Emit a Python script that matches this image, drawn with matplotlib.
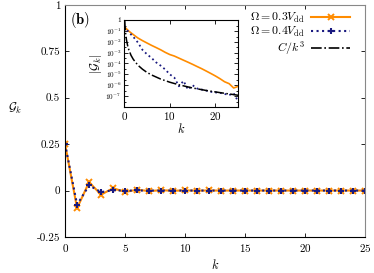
import numpy as np
import matplotlib
matplotlib.use("Agg")
import matplotlib.pyplot as plt
from matplotlib.ticker import FixedLocator, NullFormatter

plt.rcParams['font.family'] = 'serif'
plt.rcParams['font.serif'] = ['cmr10', 'DejaVu Serif']
plt.rcParams['mathtext.fontset'] = 'cm'
plt.rcParams['axes.unicode_minus'] = False
plt.rcParams['axes.formatter.use_mathtext'] = True

# data
k = list(range(26))
g_03 = [0.25, -0.095, 0.045, -0.022, 0.0126, -7.6e-3, 4.6e-3, -2.9e-3, 1.8e-3,
        -1.05e-3, 6.6e-4, -4.8e-4, 3.1e-4, -2.0e-4, 1.3e-4, -8.3e-5, 5.2e-5,
        -3.3e-5, 2.0e-5, -1.2e-5, 7.1e-6, -4.0e-6, 2.1e-6, -1.4e-6, 5.6e-7, -7.9e-7]
g_04 = [0.25, -0.076, 0.028, -0.0085, 1.8e-3, -7.0e-4, 3.2e-4, -1.26e-4, 6.3e-5,
        -2.8e-5, 1.0e-5, -5.0e-6, 8.0e-7, -2.5e-6, 4.0e-7, -1.0e-6, 5.0e-7,
        -4.0e-7, 3.2e-7, -2.5e-7, 2.2e-7, -2.0e-7, 1.6e-7, -1.26e-7, 1.8e-7, -3.2e-8]
# C/k^3 reference curve
k_ref = [0.13, 0.2, 0.3, 0.5, 0.75, 1, 1.5, 2, 3, 4, 5, 6, 8, 10, 12, 15, 18, 21, 25]
g_ref = [0.86, 0.24, 0.07, 0.015, 4.5e-3, 1.9e-3, 5.6e-4, 2.4e-4, 7.0e-5, 3.0e-5,
         1.5e-5, 8.8e-6, 3.7e-6, 1.9e-6, 1.1e-6, 5.6e-7, 3.3e-7, 2.1e-7, 1.2e-7]

orange = '#ff8c00'
navy = '#1a1a80'

fig = plt.figure(figsize=(3.74, 2.73), dpi=100)
ax = fig.add_axes([0.174, 0.132, 0.802, 0.85])

ax.plot(k, g_03, '-', color=orange, lw=1.5, marker='x', ms=5, mew=1.4,
        label=r'$\Omega = 0.3V_{\rm dd}$')
ax.plot(k, g_04, ':', color=navy, lw=1.5, marker='+', ms=4.5, mew=1.5,
        label=r'$\Omega = 0.4V_{\rm dd}$')
ax.plot([], [], '-.', color='black', lw=1.2, label=r'$C/k^3$')

ax.set_xlim(0, 25)
ax.set_ylim(-0.25, 1)
ax.set_xticks([0, 5, 10, 15, 20, 25])
ax.set_yticks([-0.25, 0, 0.25, 0.5, 0.75, 1])
ax.set_yticklabels(['-0.25', '0', '0.25', '0.5', '0.75', '1'])
ax.tick_params(direction='in', top=True, right=True, labelsize=8, length=3, width=0.6)
for s in ['top', 'right']:
    ax.spines[s].set_color('#888888')
ax.set_xlabel('$k$', fontsize=9, labelpad=3)
ax.set_ylabel(r'$\mathcal{G}_k$', fontsize=9, rotation=0)
ax.yaxis.set_label_coords(-0.165, 0.52)

ax.text(0.017, 0.98, r'$\mathbf{(b)}$', transform=ax.transAxes, fontsize=10.5,
        va='top', ha='left')

ax.legend(loc='upper right', bbox_to_anchor=(0.973, 1.0), frameon=False,
          markerfirst=False, alignment='right', fontsize=8.5, handlelength=3.3,
          borderaxespad=0.15, labelspacing=0.0, handletextpad=0.6)

# inset
ins = fig.add_axes([0.332, 0.608, 0.305, 0.319])
ins.plot(k, np.abs(g_03), '-', color=orange, lw=1.2)
ins.plot(k, np.abs(g_04), ':', color=navy, lw=1.3)
ins.plot(k_ref, g_ref, '-.', color='black', lw=1.1)
ins.set_yscale('log')
ins.set_xlim(0, 25)
ins.set_ylim(1e-8, 1.0)
ins.set_xticks([0, 10, 20])
ins.yaxis.set_major_locator(FixedLocator([1e-7, 1e-6, 1e-5, 1e-4, 1e-3, 1e-2, 1e-1, 1]))
ins.set_yticklabels([r'$10^{-7}$', r'$10^{-6}$', r'$10^{-5}$', r'$10^{-4}$',
                     r'$10^{-3}$', r'$10^{-2}$', r'$10^{-1}$', '1'])
ins.yaxis.set_minor_locator(FixedLocator([3e-8, 3e-7, 3e-6, 3e-5, 3e-4, 3e-3, 3e-2, 3e-1]))
ins.yaxis.set_minor_formatter(NullFormatter())
ins.tick_params(which='both', direction='in', top=True, right=True, labelsize=8,
                width=0.6, pad=2)
ins.tick_params(axis='y', which='major', labelsize=5.2)
ins.tick_params(which='major', length=3)
ins.tick_params(which='minor', length=1.5)
ins.set_xlabel('$k$', fontsize=9, labelpad=0)
ins.set_ylabel(r'$|\mathcal{G}_k|$', fontsize=9, labelpad=1)

fig.savefig('out.png', dpi=100)
